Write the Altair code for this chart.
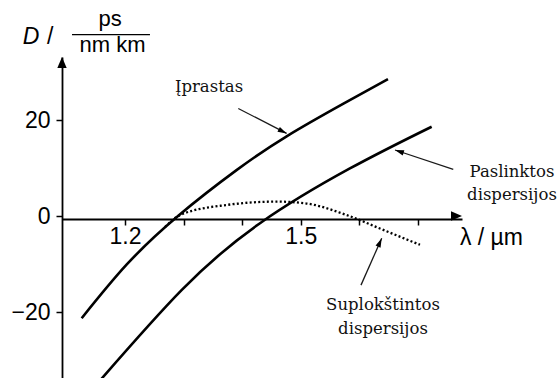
import math

import altair as alt
import pandas as pd

# Chromatic dispersion D(λ) of three fibre types, ps/(nm·km) against λ in µm
lam_standard = [1.126, 1.203, 1.2905, 1.391, 1.476, 1.573, 1.649]
d_standard = [-21.3, -10.1, 0.0, 9.6, 16.6, 23.4, 28.5]

lam_shifted = [1.15, 1.297, 1.4305, 1.584, 1.7236]
d_shifted = [-35.3, -15.4, -1.5, 9.9, 18.6]

lam_flat = [1.2683, 1.2939, 1.3736, 1.459, 1.5073, 1.5785, 1.641, 1.7037]
d_flat = [-2.3, 0.2, 2.3, 3.0, 2.65, 0.2, -2.9, -6.0]

x_ticks = [1.2, 1.3, 1.4, 1.5, 1.6, 1.7]
x_labelled = [1.2, 1.5]
y_ticks = [-20, 0, 20]

# Labels for the curves and the arrows pointing at them
label_text = ["Įprastas", "Paslinktos", "dispersijos", "Suplokštintos", "dispersijos"]
label_lam = [1.3434, 1.8607, 1.8607, 1.6405, 1.6405]
label_d = [26.9, 9.2, 4.4, -18.5, -23.5]

arrow_tail_lam = [1.3934, 1.7605, 1.6029]
arrow_tail_d = [22.4, 9.73, -14.4]
arrow_tip_lam = [1.4760, 1.6610, 1.6383]
arrow_tip_d = [17.2, 13.75, -4.65]

# Plot geometry
X_MIN, X_MAX = 1.0924, 1.7754
Y_MIN, Y_MAX = -33.75, 33.125
PLOT_W, PLOT_H = 400, 321
PX_PER_LAM = PLOT_W / (X_MAX - X_MIN)
PX_PER_D = PLOT_H / (Y_MAX - Y_MIN)

SANS = "Liberation Sans, Arial, sans-serif"
SERIF = "DejaVu Serif"
INK = "#000000"

xs = alt.Scale(domain=[X_MIN, X_MAX], nice=False, zero=False)
ys = alt.Scale(domain=[Y_MIN, Y_MAX], nice=False, zero=False)

label_expr = " || ".join(f"datum.value == {v}" for v in x_labelled)

X_AXIS = alt.Axis(
    values=x_ticks, format=".1f", labelExpr=f"({label_expr}) ? datum.label : ''",
    offset=-(PLOT_H - (0 - Y_MIN) * PX_PER_D), title=None, grid=False,
    domainColor=INK, domainWidth=1.8, tickColor=INK, tickWidth=1.5, tickSize=6,
    labelFont=SANS, labelFontSize=23, labelColor=INK, labelPadding=0,
    labelOverlap=False, labelFlush=False,
)
Y_AXIS = alt.Axis(
    values=y_ticks, format="d", title=None, grid=False,
    domainColor=INK, domainWidth=1.8, tickColor=INK, tickWidth=1.5, tickSize=6,
    labelFont=SANS, labelFontSize=23, labelColor=INK, labelPadding=6,
    labelOverlap=False, labelFlush=False,
)


def xq(field):
    return alt.X(f"{field}:Q", scale=xs, axis=X_AXIS)


def yq(field):
    return alt.Y(f"{field}:Q", scale=ys, axis=Y_AXIS)


def curve(lams, ds, dash=None, width=2.6, interp="natural"):
    df = pd.DataFrame({"lam": lams, "d": ds})
    kw = dict(color=INK, strokeWidth=width, interpolate=interp, clip=True)
    if dash:
        kw["strokeDash"] = dash
        kw["strokeCap"] = "butt"
    return alt.Chart(df).mark_line(**kw).encode(x=xq("lam"), y=yq("d"))


standard = curve(lam_standard, d_standard)
shifted = curve(lam_shifted, d_shifted)
flattened = curve(lam_flat, d_flat, dash=[2, 2.3], width=2.3, interp="monotone")

# Arrowheads: custom path with its tip at the symbol origin, pointing up
HEAD_AXIS = "M0,0L-0.85,2L0.85,2Z"
HEAD_NOTE = "M0,0L-0.6,2L0.6,2Z"


def heading(dlam, dd):
    dx = dlam * PX_PER_LAM
    dy = -dd * PX_PER_D
    return math.degrees(math.atan2(dx, -dy)) % 360


axis_heads = alt.Chart(pd.DataFrame({
    "lam": [X_MIN, X_MAX], "d": [Y_MAX, 0.0], "angle": [0.0, 90.0],
})).mark_point(shape=HEAD_AXIS, filled=True, color=INK, opacity=1, size=121,
               strokeWidth=0).encode(
    x=xq("lam"), y=yq("d"), angle=alt.Angle("angle:Q", scale=None)
)

arrows_df = pd.DataFrame({
    "lam": arrow_tail_lam, "d": arrow_tail_d,
    "lam2": arrow_tip_lam, "d2": arrow_tip_d,
})
arrows_df["angle"] = [
    heading(b - a, d - c)
    for a, b, c, d in zip(arrow_tail_lam, arrow_tip_lam, arrow_tail_d, arrow_tip_d)
]
arrow_lines = alt.Chart(arrows_df).mark_rule(color="#1a1a1a", strokeWidth=1.3).encode(
    x=xq("lam"), y=yq("d"), x2="lam2:Q", y2="d2:Q"
)
arrow_heads = alt.Chart(arrows_df).mark_point(
    shape=HEAD_NOTE, filled=True, color=INK, opacity=1, size=81, strokeWidth=0
).encode(x=xq("lam2"), y=yq("d2"), angle=alt.Angle("angle:Q", scale=None))

notes = alt.Chart(pd.DataFrame({"lam": label_lam, "d": label_d, "text": label_text})).mark_text(
    font=SERIF, fontSize=16.5, color="#111111", align="center", baseline="middle"
).encode(x=xq("lam"), y=yq("d"), text="text:N")


def word(text, lam, d, size=23, align="left", style="normal"):
    return alt.Chart(pd.DataFrame({"lam": [lam], "d": [d], "t": [text]})).mark_text(
        font=SANS, fontSize=size, fontStyle=style, color=INK, align=align,
        baseline="alphabetic",
    ).encode(x=xq("lam"), y=yq("d"), text="t:N")


# Axis titles: "D / ps over nm km" above the vertical axis, "λ / µm" after the arrow
d_sym = word("D", 1.0253, 35.8, style="italic")
d_slash = word("/", 1.0668, 35.8)
unit_top = word("ps", 1.1744, 39.65, size=22, align="center")
unit_bot = word("nm km", 1.1786, 34.2, size=22, align="center")
frac_bar = alt.Chart(pd.DataFrame({"lam": [1.1095], "lam2": [1.2426], "d": [37.8]})).mark_rule(
    color=INK, strokeWidth=1.2
).encode(x=xq("lam"), x2="lam2:Q", y=yq("d"))
x_title = word("λ / µm", 1.7719, -6.0)

chart = alt.layer(
    standard, shifted, flattened, axis_heads, arrow_lines, arrow_heads, notes,
    d_sym, d_slash, unit_top, unit_bot, frac_bar, x_title,
).properties(
    width=PLOT_W, height=PLOT_H,
    autosize=alt.AutoSizeParams(type="none"),
    padding={"left": 62, "top": 57, "right": 96, "bottom": 0},
    background="white",
).configure_view(stroke=None)

chart.save("out.html", embed_options={"renderer": "svg", "actions": False})
